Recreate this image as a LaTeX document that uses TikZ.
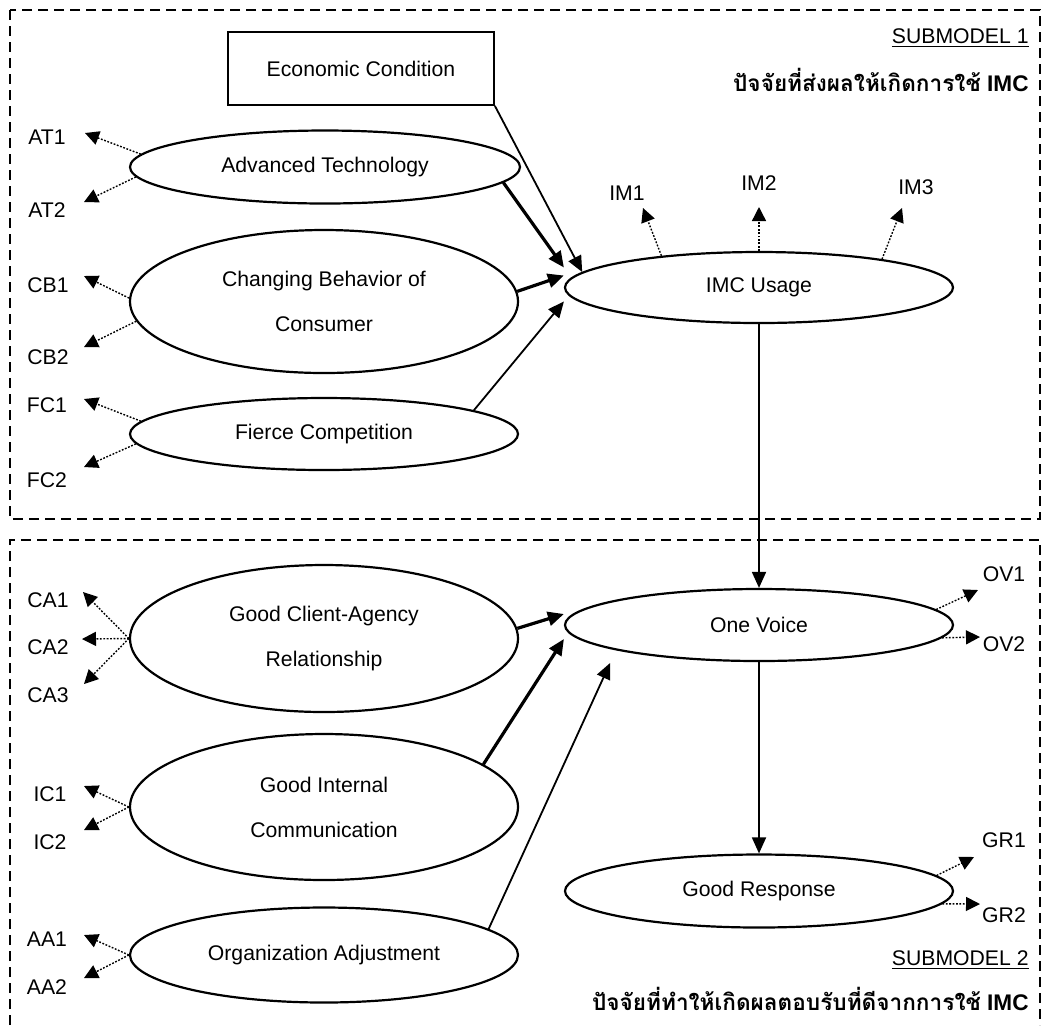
\documentclass[tikz,border=0pt]{standalone}
\usepackage{fontspec}
\setmainfont{Liberation Sans}
\newfontfamily\thaifont[Script=Thai]{Loma}
\usetikzlibrary{arrows.meta,shapes.geometric}

\begin{document}
\begin{tikzpicture}[x=0.5pt,y=-0.5pt,
  font=\fontsize{10.6}{12.7}\selectfont,
  latent/.style={ellipse,draw,line width=1.1pt,minimum width=194pt,minimum height=36pt,inner sep=0pt,align=center},
  manifest/.style={rectangle,draw,line width=0.9pt,minimum width=133pt,minimum height=36.5pt},
  obs/.style={inner sep=1pt},
  effect/.style={-{Triangle[length=8pt,width=7pt]},line width=0.9pt},
  strong/.style={effect,line width=1.6pt},
  ind/.style={-{Triangle[length=7pt,width=7pt]},line width=0.7pt,dash pattern=on 0.9pt off 0.8pt},
  box/.style={line width=1.2pt,dash pattern=on 5pt off 3pt},
  title/.style={anchor=east,inner sep=0pt}]
  \useasboundingbox (0,0) rectangle (1044,1025);

  % submodel frames
  \draw[box] (10,10) rectangle (1040,519);
  \draw[box] (10,1025) -- (10,540) -- (1040,540) -- (1040,1025);

  \node[title] (sub1) at (1029,38) {\underline{SUBMODEL 1}};
  \node[title,font=\fontsize{11.3}{13}\selectfont] (head1) at (1029,80) {{\thaifont\bfseries ปัจจัยที่ส่งผลให้เกิดการใช้} \textbf{IMC}};
  \node[title] (sub2) at (1029,960) {\underline{SUBMODEL 2}};
  \node[title,font=\fontsize{11.3}{13}\selectfont] (head2) at (1029,999) {{\thaifont\bfseries ปัจจัยที่ทำให้เกิดผลตอบรับที่ดีจากการใช้} \textbf{IMC}};

  % constructs
  \node[manifest] (econ) at (361,68.5) {Economic Condition};
  \node[latent,minimum width=195pt,minimum height=36.5pt] (at) at (325,167) {Advanced Technology};
  \node[latent,minimum height=71.5pt] (cb) at (324,301.5) {Changing Behavior of\\[9.8pt]Consumer};
  \node[latent] (fc) at (324,434) {Fierce Competition};
  \node[latent,minimum height=35.5pt] (imc) at (759,287.5) {IMC Usage};
  \node[latent] (ov) at (759,625) {One Voice};
  \node[latent,minimum height=36.5pt] (gr) at (759,891) {Good Response};
  \node[latent,minimum height=73.5pt] (gca) at (324,638.5) {Good Client-Agency\\[9.8pt]Relationship};
  \node[latent,minimum height=73pt] (gic) at (324,807) {Good Internal\\[9.8pt]Communication};
  \node[latent,minimum height=47.5pt] (oa) at (324,955) {Organization Adjustment};

  % structural paths
  \draw[effect] (econ.south east) -- (imc.175);
  \draw[strong] (at.-5) -- ([yshift=10pt]imc.west);
  \draw[strong] (cb.3) -- ([yshift=6pt]imc.west);
  \draw[effect] (fc.9) -- ([yshift=-7pt]imc.west);
  \draw[effect] (imc.south) -- (ov.north);
  \draw[strong] (gca.3) -- ([yshift=5.5pt]ov.west);
  \draw[strong] (gic.15) -- ([yshift=-7pt]ov.west);
  \draw[effect,shorten >=7pt] (oa.9) -- (ov.190);
  \draw[effect] (ov.south) -- (gr.north);

  % indicators
  \node[obs] (at1) at (47,137) {AT1};
  \node[obs] (at2) at (47,210) {AT2};
  \coordinate (at1t) at (85,133);
  \coordinate (at2t) at (84,202);
  \draw[ind] (at.176) -- (at1t);
  \draw[ind] (at.183) -- (at2t);

  \node[obs] (cb1) at (48,285) {CB1};
  \node[obs] (cb2) at (48,357) {CB2};
  \coordinate (cb1t) at (84,276);
  \coordinate (cb2t) at (84,347);
  \draw[ind] (cb.179) -- (cb1t);
  \draw[ind] (cb.186) -- (cb2t);

  \node[obs] (fc1) at (47,405) {FC1};
  \node[obs] (fc2) at (47,480) {FC2};
  \coordinate (fc1t) at (84,399);
  \coordinate (fc2t) at (84,467);
  \draw[ind] (fc.176) -- (fc1t);
  \draw[ind] (fc.183) -- (fc2t);

  \node[obs] (im1) at (627,193) {IM1};
  \node[obs] (im2) at (759,183) {IM2};
  \node[obs] (im3) at (916,187) {IM3};
  \coordinate (im1t) at (643,208);
  \coordinate (im2t) at (759,207);
  \coordinate (im3t) at (902,208);
  \draw[ind] (imc.162) -- (im1t);
  \draw[ind] (imc.north) -- (im2t);
  \draw[ind] (imc.13) -- (im3t);

  \node[obs] (ca1) at (48,600) {CA1};
  \node[obs] (ca2) at (48,647) {CA2};
  \node[obs] (ca3) at (48,695) {CA3};
  \coordinate (ca1t) at (83,592);
  \coordinate (ca2t) at (82,639);
  \coordinate (ca3t) at (84,684);
  \draw[ind] (gca.west) -- (ca1t);
  \draw[ind] (gca.west) -- (ca2t);
  \draw[ind] (gca.west) -- (ca3t);

  \node[obs] (ic1) at (50,794) {IC1};
  \node[obs] (ic2) at (50,842) {IC2};
  \coordinate (ic1t) at (84,786);
  \coordinate (ic2t) at (84,830);
  \draw[ind] (gic.west) -- (ic1t);
  \draw[ind] (gic.west) -- (ic2t);

  \node[obs] (aa1) at (47,939) {AA1};
  \node[obs] (aa2) at (47,987) {AA2};
  \coordinate (aa1t) at (84,935);
  \coordinate (aa2t) at (84,978);
  \draw[ind] (oa.west) -- (aa1t);
  \draw[ind] (oa.west) -- (aa2t);

  \node[obs] (ov1) at (1004,574) {OV1};
  \node[obs] (ov2) at (1004,644) {OV2};
  \coordinate (ov1t) at (978,590);
  \coordinate (ov2t) at (980,637);
  \draw[ind] (ov.5) -- (ov1t);
  \draw[ind] (ov.-4) -- (ov2t);

  \node[obs] (gr1) at (1004,840) {GR1};
  \node[obs] (gr2) at (1004,915) {GR2};
  \coordinate (gr1t) at (974,857);
  \coordinate (gr2t) at (980,904);
  \draw[ind] (gr.5) -- (gr1t);
  \draw[ind] (gr.-4) -- (gr2t);
\end{tikzpicture}
\end{document}
